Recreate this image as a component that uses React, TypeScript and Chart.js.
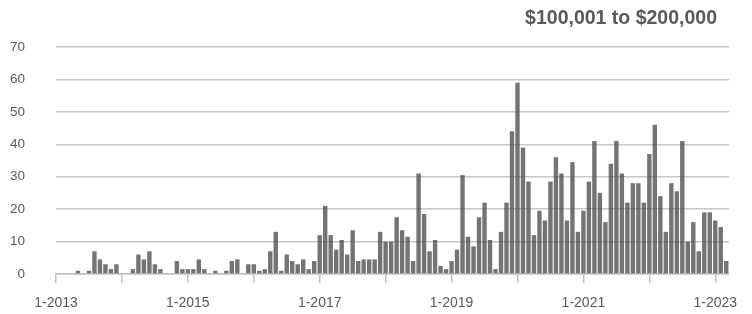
import React, { useEffect, useRef } from "react";
import { Chart, registerables } from "chart.js";

Chart.register(...registerables);

const START_YEAR = 2013;
const TITLE = "$100,001 to $200,000";

// Monthly values, one array per year (Jan..Dec)
const v2013 = [0, 0, 0, 0, 1, 0, 1, 7, 4.5, 3, 1.5, 3];
const v2014 = [0, 0, 1.5, 6, 4.5, 7, 3, 1.5, 0, 0, 4, 1.5];
const v2015 = [1.5, 1.5, 4.5, 1.5, 0, 1, 0, 1, 4, 4.5, 0, 3];
const v2016 = [3, 1, 1.5, 7, 13, 1, 6, 4, 3, 4.5, 1.5, 4];
const v2017 = [12, 21, 12, 7.5, 10.5, 6, 13.5, 4, 4.5, 4.5, 4.5, 13];
const v2018 = [10, 10, 17.5, 13.5, 11.5, 4, 31, 18.5, 7, 10.5, 2.5, 1.5];
const v2019 = [4, 7.5, 30.5, 11.5, 8.5, 17.5, 22, 10.5, 1.5, 13, 22, 44];
const v2020 = [59, 39, 28.5, 12, 19.5, 16.5, 28.5, 36, 31, 16.5, 34.5, 13];
const v2021 = [19.5, 28.5, 41, 25, 16, 34, 41, 31, 22, 28, 28, 22];
const v2022 = [37, 46, 24, 13, 28, 25.5, 41, 10, 16, 7, 19, 19];
const v2023 = [16.5, 14.5, 4];

const yearly = [v2013, v2014, v2015, v2016, v2017, v2018, v2019, v2020, v2021, v2022, v2023];
const values: number[] = yearly.flat();

const Y_MIN = 0;
const Y_MAX = 70;
const Y_STEP = 10;
const X_TICK_STEP = 12; // one tick per year
const X_LABEL_EVERY = 24; // label every two years

const FONT = "'Liberation Sans', Arial, sans-serif";
const TEXT_COLOR = "#595959";

export default function App() {
  const ref = useRef<HTMLCanvasElement>(null);

  useEffect(() => {
    if (!ref.current) return;
    const data = values.map((v, i) => ({ x: i, y: v }));
    const chart = new Chart(ref.current, {
      type: "bar",
      data: {
        datasets: [
          {
            data: data as any,
            backgroundColor: "rgba(70,70,70,0.75)",
            borderWidth: 0,
            barPercentage: 0.8,
            categoryPercentage: 1,
          },
        ],
      },
      options: {
        animation: false,
        responsive: false,
        maintainAspectRatio: false,
        layout: { padding: { left: 10, right: 23, top: 47, bottom: 4 } },
        plugins: {
          legend: { display: false },
          tooltip: { enabled: false },
          title: { display: false },
        },
        scales: {
          x: {
            type: "linear",
            min: 0,
            max: values.length - 0.5,
            offset: false,
            afterFit: (scale: any) => {
              scale.height = 36;
            },
            grid: {
              offset: false,
              drawOnChartArea: false,
              drawTicks: true,
              tickLength: 9,
              color: "#c0c0c0",
              lineWidth: 1.5,
            },
            border: { display: true, color: "#c0c0c0", width: 1.5 },
            ticks: {
              stepSize: X_TICK_STEP,
              autoSkip: false,
              maxRotation: 0,
              includeBounds: false,
              padding: 12,
              color: TEXT_COLOR,
              font: { family: FONT, size: 14 },
              callback: (v: any) => {
                const n = Math.round(Number(v));
                if (n % X_LABEL_EVERY === 0) return `1-${START_YEAR + n / 12}`;
                return "";
              },
            },
          },
          y: {
            min: Y_MIN,
            max: Y_MAX,
            afterFit: (scale: any) => {
              scale.width = 46;
            },
            grid: { color: "#c8c8c8", lineWidth: 1.5, drawTicks: false },
            border: { display: false },
            ticks: {
              stepSize: Y_STEP,
              padding: 31,
              color: TEXT_COLOR,
              font: { family: FONT, size: 13.5 },
            },
          },
        },
      },
    });
    return () => chart.destroy();
  }, []);

  return (
    <div style={{ position: "fixed", left: 0, top: 0, width: 752, height: 314, background: "#fff" }}>
      <canvas ref={ref} width={752} height={314} style={{ display: "block" }} />
      <div
        style={{
          position: "absolute",
          right: 35,
          top: 8,
          fontFamily: FONT,
          fontWeight: "bold",
          fontSize: 19.5,
          lineHeight: "19px",
          color: TEXT_COLOR,
          whiteSpace: "nowrap",
        }}
      >
        {TITLE}
      </div>
    </div>
  );
}
